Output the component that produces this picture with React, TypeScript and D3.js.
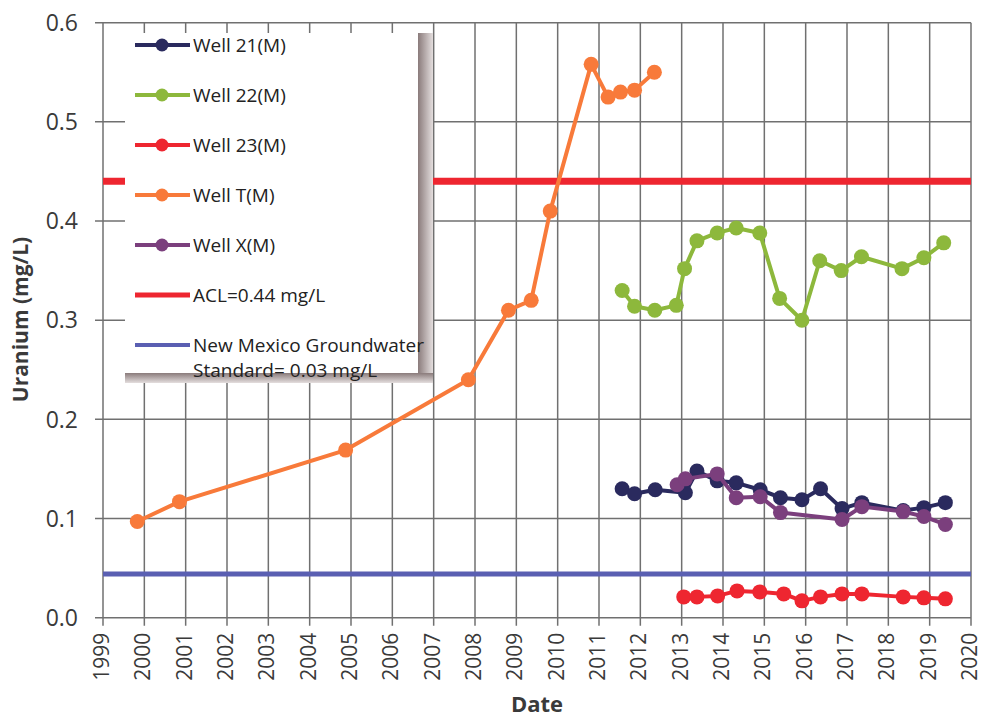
import React from "react";
import * as d3 from "d3";

type P = [number, number];

const yearTicks = d3.range(1999, 2021);
const yTicks = [0, 0.1, 0.2, 0.3, 0.4, 0.5, 0.6];

const well21: P[] = [
  [2011.56, 0.130], [2011.86, 0.125], [2012.36, 0.129], [2013.09, 0.126], [2013.37, 0.148],
  [2013.86, 0.138], [2014.32, 0.136], [2014.9, 0.129], [2015.39, 0.121], [2015.91, 0.119],
  [2016.36, 0.130], [2016.88, 0.110], [2017.36, 0.116], [2018.36, 0.108], [2018.86, 0.111],
  [2019.38, 0.116],
];
const well22: P[] = [
  [2011.56, 0.330], [2011.86, 0.314], [2012.35, 0.310], [2012.87, 0.315], [2013.07, 0.352],
  [2013.37, 0.380], [2013.86, 0.388], [2014.32, 0.393], [2014.89, 0.388], [2015.37, 0.322],
  [2015.91, 0.300], [2016.34, 0.360], [2016.86, 0.350], [2017.35, 0.364], [2018.33, 0.352],
  [2018.86, 0.363], [2019.34, 0.378],
];
const well23: P[] = [
  [2013.05, 0.021], [2013.37, 0.021], [2013.87, 0.022], [2014.34, 0.027], [2014.89, 0.026],
  [2015.47, 0.024], [2015.91, 0.017], [2016.36, 0.021], [2016.88, 0.024], [2017.36, 0.024],
  [2018.36, 0.021], [2018.86, 0.020], [2019.38, 0.019],
];
const wellT: P[] = [
  [1999.83, 0.097], [2000.85, 0.117], [2004.87, 0.169], [2007.84, 0.240], [2008.81, 0.310],
  [2009.36, 0.320], [2009.82, 0.410], [2010.81, 0.558], [2011.22, 0.525], [2011.52, 0.530],
  [2011.86, 0.532], [2012.34, 0.550],
];
const wellX: P[] = [
  [2012.89, 0.134], [2013.09, 0.140], [2013.86, 0.145], [2014.32, 0.121], [2014.9, 0.122],
  [2015.39, 0.106], [2016.88, 0.099], [2017.36, 0.112], [2018.36, 0.107], [2018.86, 0.102],
  [2019.38, 0.094],
];
const aclValue = 0.44;
const nmStandardValue = 0.044;

const seriesNames = ["Well 21(M)", "Well 22(M)", "Well 23(M)", "Well T(M)", "Well X(M)"];
const seriesData = [well21, well22, well23, wellT, wellX];
const seriesColors = ["#2a2a5e", "#8db83c", "#ee2630", "#f87a3a", "#7b3f7d"];
const aclColor = "#ee2630";
const nmColor = "#5a5fb2";

const W = 983;
const H = 720;
const left = 103;
const right = 971;
const top = 22.7;
const bottom = 617.7;
const font = "'Open Sans', Lato, sans-serif";
const textColor = "#3a3a3a";
const gridColor = "#707070";

export default function App() {
  const x = d3.scaleLinear().domain([1999, 2020]).range([left, right]);
  const y = d3.scaleLinear().domain([0, 0.6]).range([bottom, top]);
  const line = d3.line<P>().x((d) => x(d[0])).y((d) => y(d[1]));

  const legendRows = [45, 95, 145, 195, 245, 295, 345];

  return (
    <svg width={W} height={H} style={{ position: "absolute", left: 0, top: 0, background: "#fff" }}>
      <defs>
        <linearGradient id="shR" x1="0" x2="1" y1="0" y2="0">
          <stop offset="0" stopColor="#8a7b7b" />
          <stop offset="1" stopColor="#e4dede" />
        </linearGradient>
        <linearGradient id="shB" x1="0" x2="0" y1="0" y2="1">
          <stop offset="0" stopColor="#8a7b7b" />
          <stop offset="1" stopColor="#e4dede" />
        </linearGradient>
      </defs>
      <rect x={0} y={0} width={W} height={H} fill="#fff" />
      {/* grid */}
      {yTicks.map((t) => (
        <line key={"gy" + t} x1={95} x2={right} y1={y(t)} y2={y(t)} stroke={gridColor} strokeWidth={1.5} />
      ))}
      {yearTicks.map((t) => (
        <line key={"gx" + t} x1={x(t)} x2={x(t)} y1={top} y2={bottom + 8} stroke={gridColor} strokeWidth={1.5} />
      ))}
      {/* reference lines */}
      <line x1={left} x2={right} y1={y(aclValue)} y2={y(aclValue)} stroke={aclColor} strokeWidth={7} />
      <line x1={left} x2={right} y1={y(nmStandardValue)} y2={y(nmStandardValue)} stroke={nmColor} strokeWidth={5} />
      {/* series */}
      {seriesData.map((data, i) => (
        <g key={seriesNames[i]}>
          <path d={line(data) || ""} fill="none" stroke={seriesColors[i]} strokeWidth={4} strokeLinejoin="round" />
          {data.map((d, j) => (
            <circle key={j} cx={x(d[0])} cy={y(d[1])} r={7.5} fill={seriesColors[i]} />
          ))}
        </g>
      ))}
      {/* y tick labels */}
      {yTicks.map((t) => (
        <text key={"yl" + t} x={78} y={y(t)} dy="0.36em" textAnchor="end" fontFamily={font} fontSize={23} fill={textColor}>
          {t.toFixed(1)}
        </text>
      ))}
      {/* x tick labels */}
      {yearTicks.map((t) => (
        <text
          key={"xl" + t}
          transform={`translate(${x(t)},${bottom + 15}) rotate(-90)`}
          textAnchor="end"
          dy="0.28em"
          fontFamily={font}
          fontSize={21}
          fill={textColor}
        >
          {t}
        </text>
      ))}
      {/* axis titles */}
      <text x={537} y={712} textAnchor="middle" fontFamily={font} fontSize={22} fontWeight="bold" fill={textColor}>
        Date
      </text>
      <text
        transform={`translate(21,${(232 + 407) / 2}) rotate(-90)`}
        textAnchor="middle"
        dy="0.35em"
        fontFamily={font}
        fontSize={21}
        fontWeight="bold"
        fill={textColor}
      >
        Uranium (mg/L)
      </text>
      {/* legend */}
      <rect x={418} y={33} width={15} height={350} fill="url(#shR)" />
      <rect x={125} y={373} width={308} height={10} fill="url(#shB)" />
      <rect x={125} y={33} width={293} height={340} fill="#fff" />
      {seriesNames.map((name, i) => (
        <g key={"lg" + name}>
          <line x1={135} x2={190} y1={legendRows[i]} y2={legendRows[i]} stroke={seriesColors[i]} strokeWidth={4} />
          <circle cx={162} cy={legendRows[i]} r={6.5} fill={seriesColors[i]} />
          <text x={193} y={legendRows[i]} dy="0.35em" fontFamily={font} fontSize={19} fill="#222">
            {name}
          </text>
        </g>
      ))}
      <line x1={135} x2={190} y1={legendRows[5]} y2={legendRows[5]} stroke={aclColor} strokeWidth={5} />
      <text x={193} y={legendRows[5]} dy="0.35em" fontFamily={font} fontSize={19} fill="#222">
        ACL=0.44 mg/L
      </text>
      <line x1={135} x2={190} y1={legendRows[6]} y2={legendRows[6]} stroke={nmColor} strokeWidth={4} />
      <text x={193} y={legendRows[6]} dy="0.35em" fontFamily={font} fontSize={19} fill="#222">
        New Mexico Groundwater
      </text>
      <text x={193} y={370} dy="0.35em" fontFamily={font} fontSize={19} fill="#222">
        Standard= 0.03 mg/L
      </text>
    </svg>
  );
}
